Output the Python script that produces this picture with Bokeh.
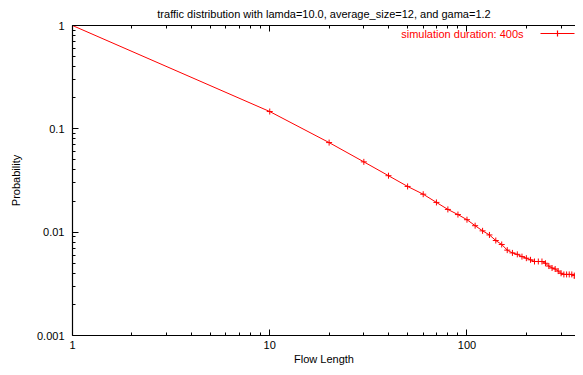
from bokeh.plotting import figure
from bokeh.models import (Range1d, LogAxis, FixedTicker, CustomJSTickFormatter,
                          Label, BoxAnnotation, ColumnDataSource)
from bokeh.embed import file_html
from bokeh.resources import INLINE

# ---- data ----
flow_length = [1, 10, 20, 30, 40, 50, 60, 70, 80, 90, 100,
               110, 120, 130, 140, 150, 160, 170, 180, 190, 200,
               210, 220, 230, 240, 250, 260, 270, 280, 290, 300,
               310, 320, 330, 340, 350, 360, 370]
probability = [1.0, 0.147, 0.0736, 0.0479, 0.0352, 0.0277, 0.0233, 0.0194, 0.0166, 0.0148, 0.0132,
               0.01155, 0.0103, 0.0094, 0.0083, 0.0076, 0.0067, 0.0063, 0.0061, 0.0058, 0.0056,
               0.0054, 0.0052, 0.0052, 0.0052, 0.0050, 0.0047, 0.0045, 0.0044, 0.0042, 0.0040,
               0.0039, 0.0039, 0.0039, 0.0039, 0.0038, 0.0036, 0.0034]

x_major_ticks = [1, 10, 100]
y_major_ticks = [0.001, 0.01, 0.1, 1]
title_text = "traffic distribution with lamda=10.0, average_size=12, and gama=1.2"
series_name = "simulation duration: 400s"
x_label = "Flow Length"
y_label = "Probability"

FONT = "Liberation Sans"
RED = "#ff0000"

x_minor = [m * t for t in [1, 10, 100] for m in range(2, 10)]
y_minor = [m * t for t in [0.001, 0.01, 0.1] for m in range(2, 10)]
xt = FixedTicker(ticks=x_major_ticks, minor_ticks=x_minor)
yt = FixedTicker(ticks=y_major_ticks, minor_ticks=y_minor)
fmt = CustomJSTickFormatter(code="return String(tick)")

p = figure(width=575, height=367, x_axis_type="log", y_axis_type="log",
           x_range=Range1d(1, 355), y_range=Range1d(0.001, 1),
           output_backend="svg", toolbar_location=None,
           min_border_left=72, min_border_right=0, min_border_top=25, min_border_bottom=31)
p.outline_line_color = None
p.grid.visible = False
p.background_fill_color = "white"
p.border_fill_color = "white"

p.title.text = title_text
p.title.align = "center"
p.title.vertical_align = "top"
p.title.text_font = FONT
p.title.text_font_size = "11px"
p.title.text_font_style = "normal"
p.title.text_color = "black"
p.title.standoff = 0
p.title.offset = 7
p.title.padding = 4


def style(ax):
    ax.axis_line_color = "black"
    ax.axis_line_width = 1.2
    ax.major_tick_in = 6
    ax.major_tick_out = 0
    ax.minor_tick_in = 3
    ax.minor_tick_out = 0
    ax.major_tick_line_color = "black"
    ax.minor_tick_line_color = "black"
    ax.major_label_text_font = FONT
    ax.major_label_text_font_size = "11px"
    ax.major_label_text_color = "black"
    ax.axis_label_text_font = FONT
    ax.axis_label_text_font_size = "11px"
    ax.axis_label_text_font_style = "normal"
    ax.axis_label_text_color = "black"


xa = p.xaxis[0]
ya = p.yaxis[0]
xa.ticker = xt
ya.ticker = yt
xa.formatter = fmt
ya.formatter = fmt
style(xa)
style(ya)
xa.axis_label = x_label
ya.axis_label = y_label
xa.major_label_standoff = 5
xa.axis_label_standoff = 1
ya.major_label_standoff = 8
ya.axis_label_standoff = 12

top = LogAxis(ticker=xt, formatter=CustomJSTickFormatter(code="return ''"))
style(top)
top.major_label_standoff = 0
p.add_layout(top, "above")

src = ColumnDataSource(data=dict(x=flow_length, y=probability))
p.line("x", "y", source=src, line_color=RED, line_width=1)
p.scatter("x", "y", source=src, marker="cross", size=6, line_color=RED, line_width=1)

# gnuplot-style key: text then sample (frame-relative screen units)
p.add_layout(Label(x=451, y=302, x_units="screen", y_units="screen", text=series_name,
                   text_align="right", text_baseline="middle", text_font=FONT,
                   text_font_size="11px", text_color=RED))
p.add_layout(BoxAnnotation(left=468, right=502, bottom=301.4, top=302.6,
                           left_units="screen", right_units="screen",
                           bottom_units="screen", top_units="screen",
                           fill_color=RED, fill_alpha=1.0,
                           line_color=RED, line_alpha=0.0, line_width=0))
p.add_layout(BoxAnnotation(left=484.4, right=485.6, bottom=299, top=305,
                           left_units="screen", right_units="screen",
                           bottom_units="screen", top_units="screen",
                           fill_color=RED, fill_alpha=1.0,
                           line_color=RED, line_alpha=0.0, line_width=0))

open("out.html", "w").write(file_html(p, INLINE))
